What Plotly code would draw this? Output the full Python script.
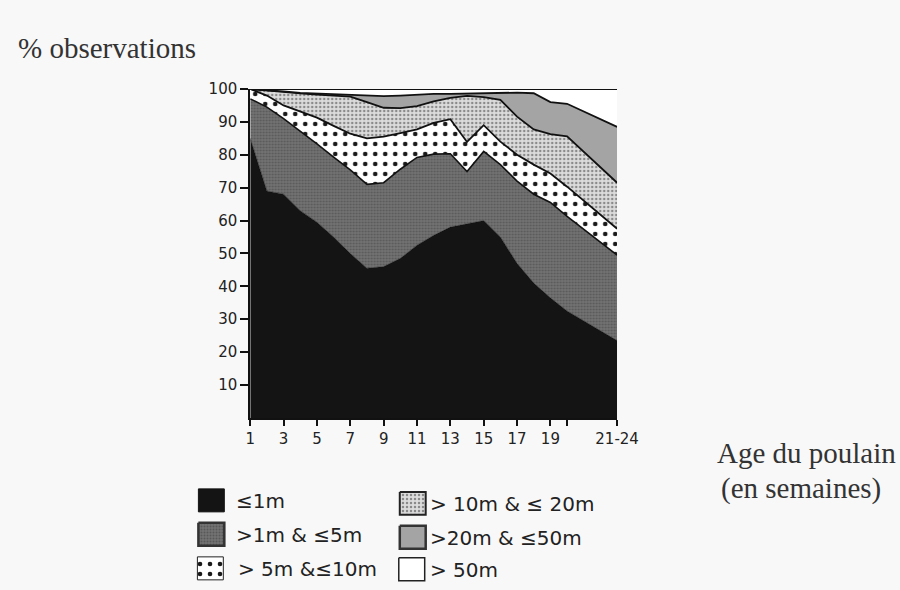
import plotly.graph_objects as go

# ---------------- data ----------------
week_pos = [1, 2, 3, 4, 5, 6, 7, 8, 9, 10, 11, 12, 13, 14, 15, 16, 17, 18, 19, 20, 23]
x_tick_vals = [1, 3, 5, 7, 9, 11, 13, 15, 17, 19, 20, 23]
x_tick_text = ["1", "3", "5", "7", "9", "11", "13", "15", "17", "19", "", "21-24"]
y_tick_vals = [10, 20, 30, 40, 50, 60, 70, 80, 90, 100]

cat_labels = ["≤1m", ">1m & ≤5m", "> 5m &≤10m", "> 10m & ≤ 20m", ">20m & ≤50m", "> 50m"]

pct_le1 = [85, 69, 68, 63, 59.5, 55, 50, 45.5, 46, 48.5, 52.5, 55.5, 58, 59, 60, 55, 47, 41, 36.5, 32.5, 23.5]
pct_1_5 = [12, 25.5, 23, 24.2, 23.8, 24.3, 25.4, 25.5, 25.5, 27.1, 26.7, 24.7, 22.3, 15.9, 21, 22, 25, 27, 29, 28.8, 26]
pct_5_10 = [3, 3.5, 4, 6, 8, 9.5, 11, 14, 14, 11, 8.5, 9.5, 10.5, 9, 8, 7, 8, 9, 8.8, 9, 8]
pct_10_20 = [0, 1.5, 4, 5.5, 7, 9.3, 11.3, 11, 8.8, 7.6, 7.1, 6.5, 6.5, 14, 8.5, 12.7, 11.6, 10.7, 12, 15.3, 14]
pct_20_50 = [0, 0.2, 0.3, 0.1, 0.3, 0.3, 0.5, 1.8, 3.5, 3.8, 3.5, 2.3, 1.2, 0.7, 1.2, 2.1, 7.3, 11, 9.7, 9.9, 17]
pct_gt50 = [0, 0.3, 0.7, 1.2, 1.4, 1.6, 1.8, 2.2, 2.2, 2, 1.7, 1.5, 1.5, 1.4, 1.3, 1.2, 1.1, 1.3, 4, 4.5, 11.5]

series = [pct_le1, pct_1_5, pct_5_10, pct_10_20, pct_20_50, pct_gt50]

# ---------------- geometry ----------------
W, H = 900, 590
# the capture maps page pixels slightly inset/scaled; target pixels -> page pixels
SX, OX, SY, OY = 0.973, 3.0, 0.985, 8.0


def dx(x):
    return (x - OX) / SX


def dy(y):
    return (y - OY) / SY


PX_L, PX_R, PX_T, PX_B = dx(249), dx(617), dy(88), dy(417)

styles = [
    dict(bg="#141414", fg="#141414", shape="", size=4, sol=0.2, lw=0.5, border="#141414", bw=1),
    dict(bg="#737373", fg="#585858", shape=".", size=3, sol=0.35, lw=1.6, border="#333333", bw=2.5),
    dict(bg="#ffffff", fg="#1a1a1a", shape=".", size=10, sol=0.17, lw=1.8, border="#222222", bw=1),
    dict(bg="#dcdcdc", fg="#8a8a8a", shape=".", size=4, sol=0.3, lw=1.8, border="#222222", bw=2),
    dict(bg="#a4a4a4", fg="#a4a4a4", shape="", size=4, sol=0.2, lw=1.8, border="#333333", bw=2.5),
    dict(bg="#ffffff", fg="#ffffff", shape="", size=4, sol=0.2, lw=2.2, border="#222222", bw=1.5),
]


def pattern(st):
    return dict(shape=st["shape"], bgcolor=st["bg"], fgcolor=st["fg"],
                size=st["size"], solidity=st["sol"], fillmode="replace")


fig = go.Figure()

for vals, lab, st in zip(series, cat_labels, styles):
    fig.add_trace(go.Scatter(
        x=week_pos, y=vals, name=lab, stackgroup="one", mode="lines",
        line=dict(color="#111111", width=st["lw"]),
        fillcolor=st["bg"], fillpattern=pattern(st),
        showlegend=False, hoverinfo="skip", xaxis="x", yaxis="y",
    ))

# ---------------- hand-drawn legend (pixel overlay axis) ----------------
slots = [(197, 488), (197, 522), (196, 556), (399, 491), (399, 525), (398, 557)]
text_x = [233, 233, 235, 427, 427, 427]
SW, SH = 26, 23
for (x0, y0), tx, lab, st in zip(slots, text_x, cat_labels, styles):
    xa, xb, ya, yb = dx(x0), dx(x0 + SW), dy(y0), dy(y0 + SH)
    fig.add_trace(go.Scatter(
        x=[xa, xb, xb, xa, xa], y=[ya, ya, yb, yb, ya],
        mode="lines", fill="toself", fillcolor=st["bg"], fillpattern=pattern(st),
        line=dict(color=st["border"], width=st["bw"]),
        showlegend=False, hoverinfo="skip", xaxis="x2", yaxis="y2",
    ))
    fig.add_annotation(x=dx(tx) / W, y=1 - dy(y0 + SH / 2 + 1) / H, xref="paper", yref="paper",
                       text=lab, showarrow=False, xanchor="left", yanchor="middle",
                       font=dict(family="DejaVu Sans", size=20, color="#222222"))

# ---------------- titles ----------------
serif = dict(family="Liberation Serif", size=29, color="#333333")
fig.add_annotation(x=dx(14) / W, y=1 - dy(47) / H, xref="paper", yref="paper", text="% observations",
                   showarrow=False, xanchor="left", yanchor="middle", font=serif)
fig.add_annotation(x=dx(715) / W, y=1 - dy(452) / H, xref="paper", yref="paper", text="Age du poulain",
                   showarrow=False, xanchor="left", yanchor="middle", font=serif)
fig.add_annotation(x=dx(719) / W, y=1 - dy(488) / H, xref="paper", yref="paper", text="(en semaines)",
                   showarrow=False, xanchor="left", yanchor="middle", font=serif)

tick_font = dict(family="DejaVu Sans", size=15, color="#222222")
fig.update_layout(
    width=W, height=H,
    margin=dict(l=0, r=0, t=0, b=0, pad=0),
    paper_bgcolor="#f8f8f8", plot_bgcolor="rgba(0,0,0,0)",
    showlegend=False,
    xaxis=dict(domain=[PX_L / W, PX_R / W], range=[1, 23], anchor="y",
               tickmode="array", tickvals=x_tick_vals, ticktext=x_tick_text,
               ticks="outside", ticklen=6, tickwidth=1.5, tickcolor="#111111",
               showline=True, linecolor="#111111", linewidth=2,
               showgrid=False, zeroline=False, tickfont=tick_font, fixedrange=True),
    yaxis=dict(domain=[1 - PX_B / H, 1 - PX_T / H], range=[0, 100], anchor="x",
               tickmode="array", tickvals=y_tick_vals,
               ticks="outside", ticklen=8, tickwidth=1.5, tickcolor="#111111",
               showline=True, linecolor="#111111", linewidth=2,
               showgrid=False, zeroline=False, tickfont=tick_font, fixedrange=True),
    xaxis2=dict(domain=[0, 1], range=[0, W], anchor="y2", visible=False, fixedrange=True),
    yaxis2=dict(domain=[0, 1], range=[H, 0], anchor="x2", visible=False, fixedrange=True),
)

page_fix = (
    "var d=document.documentElement,b=document.body;"
    "d.style.margin='0';d.style.padding='0';d.style.overflow='hidden';"
    "b.style.margin='0';b.style.padding='0';b.style.overflow='hidden';"
    "d.style.background='#f8f8f8';b.style.background='#f8f8f8';"
)
fig.write_html("out.html", config={"displayModeBar": False, "responsive": False},
               post_script=page_fix)
